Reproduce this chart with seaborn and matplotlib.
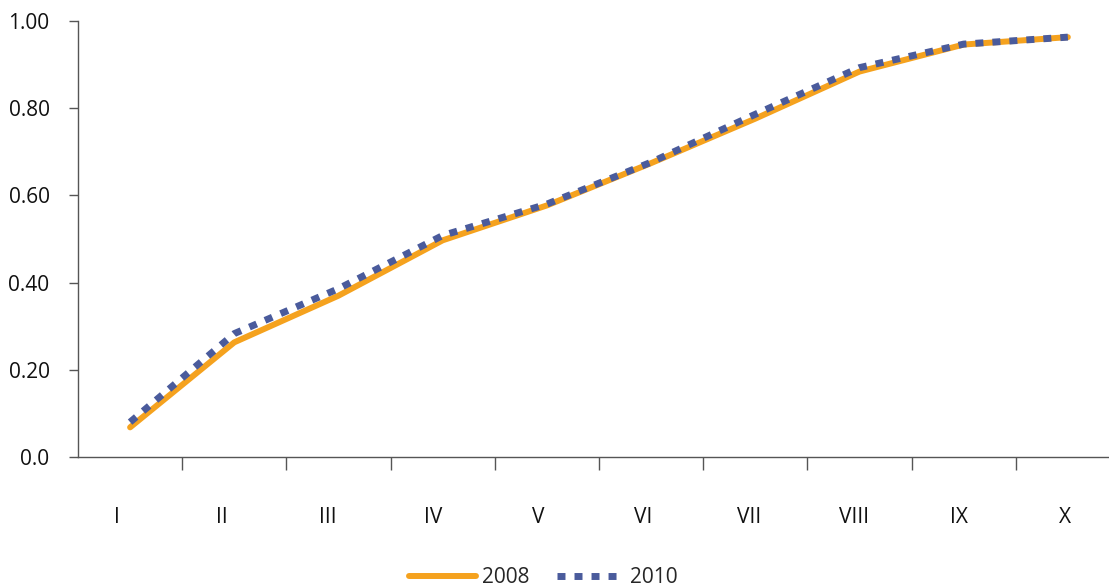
import numpy as np
import pandas as pd
import matplotlib
matplotlib.use('Agg')
import matplotlib.pyplot as plt
import seaborn as sns

# 数据
categories = ['I', 'II', 'III', 'IV', 'V', 'VI', 'VII', 'VIII', 'IX', 'X']
values_2008 = [0.068, 0.263, 0.370, 0.497, 0.577, 0.674, 0.776, 0.884, 0.946, 0.963]
values_2010 = [0.080, 0.283, 0.386, 0.508, 0.580, 0.676, 0.786, 0.893, 0.947, 0.963]
y_ticks = [0.0, 0.2, 0.4, 0.6, 0.8, 1.0]
y_labels = ['0.0', '0.20', '0.40', '0.60', '0.80', '1.00']

sns.set_theme(style='white')
plt.rcParams['font.family'] = ['Open Sans', 'DejaVu Sans']

df = pd.DataFrame({
    'pos': list(range(len(categories))) * 2,
    'value': values_2008 + values_2010,
    'year': ['2008'] * len(categories) + ['2010'] * len(categories),
})

fig = plt.figure(figsize=(11.09, 5.88), dpi=100)
ax = fig.add_axes([78 / 1109, 131 / 588, 1 - 78 / 1109, 436 / 588])

orange = '#F5A21E'
blue = '#4A5B9C'

sns.lineplot(data=df[df['year'] == '2008'], x='pos', y='value', color=orange,
             linewidth=4.3, ax=ax, label='2008', solid_capstyle='round')
sns.lineplot(data=df[df['year'] == '2010'], x='pos', y='value', color=blue,
             linewidth=5.0, ax=ax, label='2010', dashes=(1.15, 1.3),
             dash_capstyle='butt')

ax.set_xlim(-0.5, 9.395)
ax.set_ylim(0, 1.0)
ax.set_xlabel('')
ax.set_ylabel('')

# 坐标轴
for s in ['top', 'right']:
    ax.spines[s].set_visible(False)
for s in ['left', 'bottom']:
    ax.spines[s].set_color('#555555')
    ax.spines[s].set_linewidth(1.0)

ax.set_yticks(y_ticks)
ax.set_yticklabels(y_labels)
ax.tick_params(axis='y', length=6.5, width=1.0, color='#555555', pad=14,
               labelsize=15, labelcolor='#111111', direction='out', left=True)

# 类别标签（原图中标签略偏左）
label_pos = [-0.126 + i * 1.0106 for i in range(len(categories))]
ax.set_xticks(label_pos)
ax.set_xticklabels(categories)
ax.set_xticks(np.arange(0.5, 9.0, 1.0), minor=True)
ax.tick_params(axis='x', which='major', length=0, pad=36, labelsize=15,
               labelcolor='#111111')
ax.tick_params(axis='x', which='minor', length=9, width=1.0, color='#555555',
               direction='out', bottom=True)
ax.grid(False)

# 图例
ax.legend_.remove()
handles, labels = ax.get_legend_handles_labels()
fig.legend(handles, labels, loc='center', bbox_to_anchor=(0.49, 0.018),
           ncol=2, frameon=False, fontsize=15, handlelength=3.2,
           handletextpad=0.3, columnspacing=1.3)

fig.savefig('out.png', dpi=100)
